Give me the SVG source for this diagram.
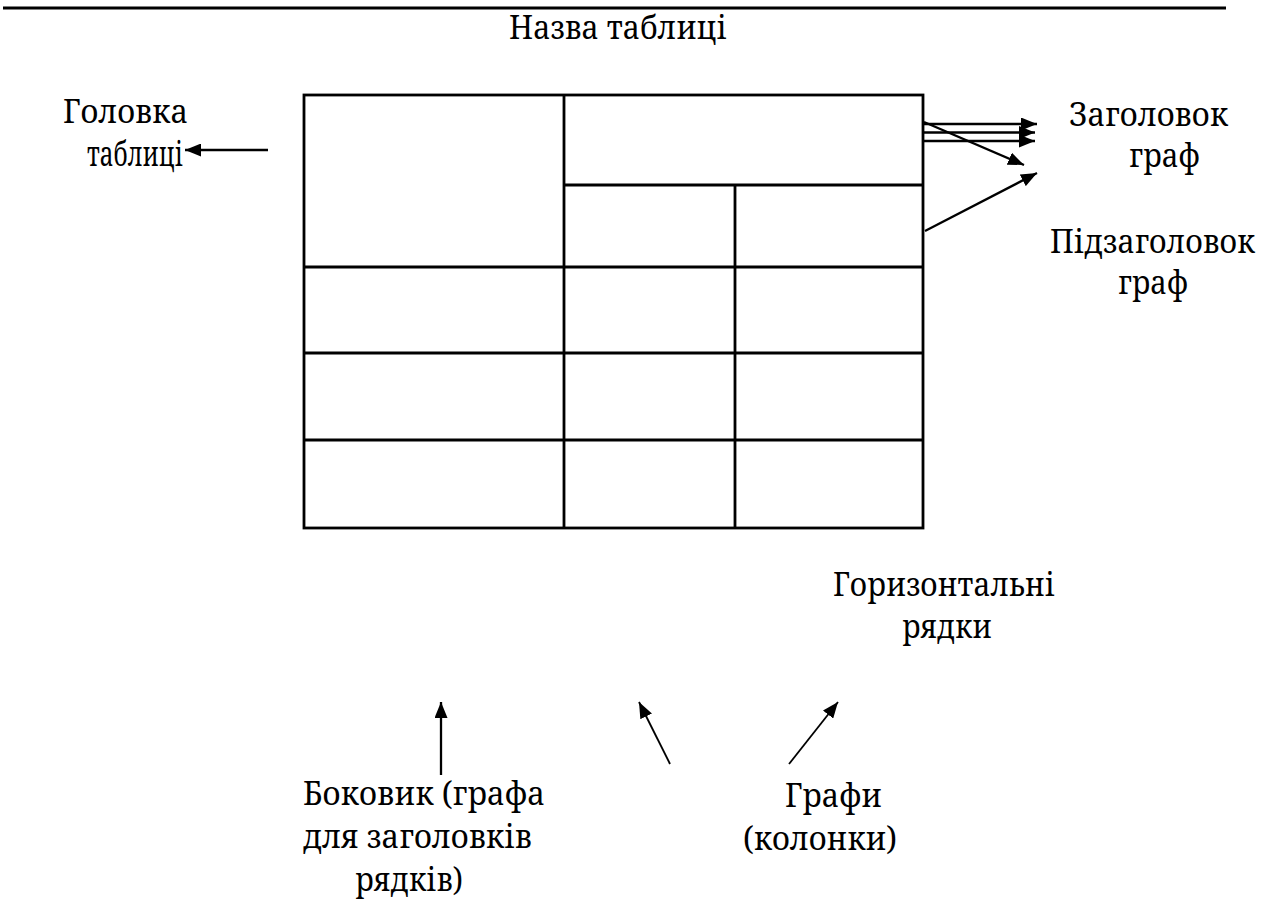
<svg xmlns="http://www.w3.org/2000/svg" width="1272" height="899" viewBox="0 0 1272 899">
<style>
.lbl text{font-family:"Noto Serif","DejaVu Serif",serif;font-size:33px;fill:#000}
.t line,.t rect{stroke:#000;stroke-width:2.8;fill:none}
.c line{stroke:#000;stroke-width:2.3}
.c .thin{stroke-width:1.8}
</style>
<defs>
<marker id="ah" viewBox="0 0 16 13" refX="16" refY="6.5" markerWidth="16" markerHeight="13" markerUnits="userSpaceOnUse" orient="auto">
<path d="M0,0 L16,6.5 L0,13 z" fill="#000"/>
</marker>
</defs>
<rect width="1272" height="899" fill="#fff"/>
<line x1="3" y1="8" x2="1226" y2="8" stroke="#000" stroke-width="3"/>
<g class="lbl">
<g id="title"><text x="509" y="39" textLength="218" lengthAdjust="spacingAndGlyphs">Назва таблиці</text></g>
<g id="label-golovka">
<text x="63" y="123" textLength="125" lengthAdjust="spacingAndGlyphs">Головка</text>
<text x="87" y="166" textLength="96" lengthAdjust="spacingAndGlyphs" style="font-size:35px">таблиці</text>
</g>
<g id="label-zagolovok">
<text x="1069" y="126" textLength="159" lengthAdjust="spacingAndGlyphs">Заголовок</text>
<text x="1129" y="167" textLength="71" lengthAdjust="spacingAndGlyphs">граф</text>
</g>
<g id="label-pidzagolovok">
<text x="1050" y="253" textLength="205" lengthAdjust="spacingAndGlyphs">Підзаголовок</text>
<text x="1118" y="294" textLength="70" lengthAdjust="spacingAndGlyphs">граф</text>
</g>
<g id="label-ryadky">
<text x="833" y="596" textLength="222" lengthAdjust="spacingAndGlyphs">Горизонтальні</text>
<text x="902" y="638" textLength="90" lengthAdjust="spacingAndGlyphs">рядки</text>
</g>
<g id="label-bokovyk">
<text x="303" y="805" textLength="242" lengthAdjust="spacingAndGlyphs">Боковик (графа</text>
<text x="303" y="848" textLength="229" lengthAdjust="spacingAndGlyphs">для заголовків</text>
<text x="355" y="891" textLength="108" lengthAdjust="spacingAndGlyphs">рядків)</text>
</g>
<g id="label-grafy">
<text x="785" y="807" textLength="97" lengthAdjust="spacingAndGlyphs">Графи</text>
<text x="743" y="850" textLength="154" lengthAdjust="spacingAndGlyphs">(колонки)</text>
</g>
</g>
<g id="table" class="t">
<rect x="304" y="95" width="619" height="433"/>
<line x1="564" y1="95" x2="564" y2="528"/>
<line x1="564" y1="185" x2="923" y2="185"/>
<line x1="735" y1="185" x2="735" y2="528"/>
<line x1="304" y1="267" x2="923" y2="267"/>
<line x1="304" y1="353" x2="923" y2="353"/>
<line x1="304" y1="440" x2="923" y2="440"/>
</g>
<g id="connectors" class="c">
<line x1="268" y1="150" x2="185" y2="150" marker-end="url(#ah)"/>
<line x1="923" y1="124" x2="1037" y2="124" marker-end="url(#ah)"/>
<line x1="923" y1="132.5" x2="1035" y2="132.5" marker-end="url(#ah)"/>
<line x1="923" y1="141" x2="1035" y2="141" marker-end="url(#ah)"/>
<line x1="924" y1="122" x2="1024" y2="165" marker-end="url(#ah)"/>
<line x1="925" y1="231" x2="1037" y2="173" marker-end="url(#ah)"/>
<line x1="441" y1="775" x2="441" y2="702" marker-end="url(#ah)"/>
<line class="thin" x1="670" y1="764" x2="639" y2="702" marker-end="url(#ah)"/>
<line class="thin" x1="789" y1="764" x2="838" y2="702" marker-end="url(#ah)"/>
</g>
</svg>
